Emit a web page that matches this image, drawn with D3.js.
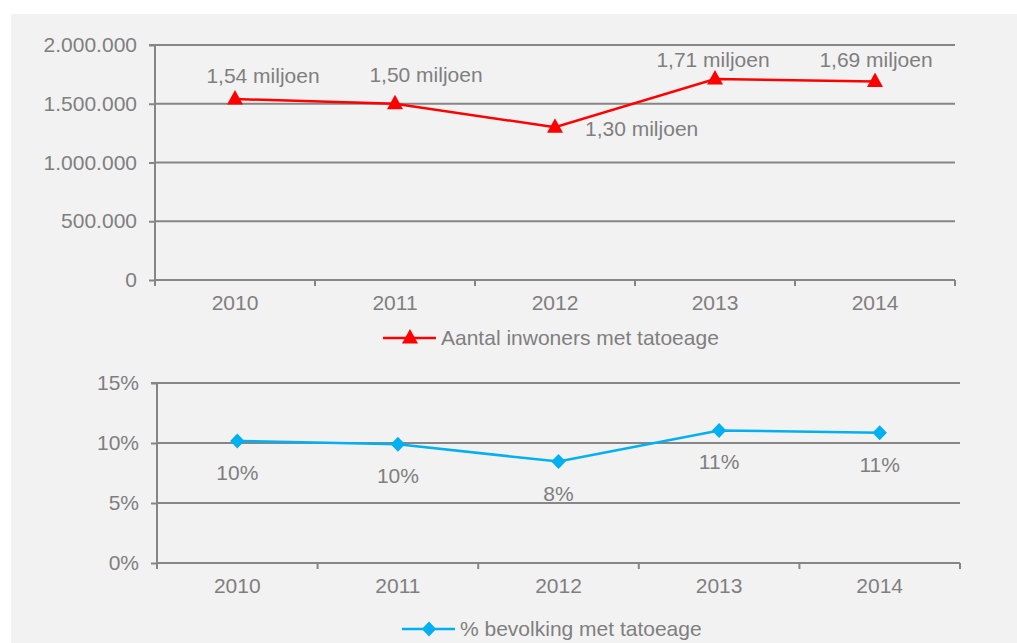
<!DOCTYPE html>
<html><head><meta charset="utf-8">
<script src="https://cdn.jsdelivr.net/npm/d3@7"></script>
<style>
html,body{margin:0;padding:0;background:#fff;}
text{font-family:"Liberation Sans",Arial,sans-serif;}
</style></head>
<body>
<svg id="c" width="1017" height="643"></svg>
<script>
const years = ["2010","2011","2012","2013","2014"];
const inwoners = [1540000, 1500000, 1300000, 1710000, 1690000];
const inwonersLabels = ["1,54 miljoen","1,50 miljoen","1,30 miljoen","1,71 miljoen","1,69 miljoen"];
const inwonersTicks = [0, 500000, 1000000, 1500000, 2000000];
const procent = [10.17, 9.89, 8.45, 11.05, 10.85];
const procentLabels = ["10%","10%","8%","11%","11%"];
const procentTicks = [0, 5, 10, 15];
const legend1 = "Aantal inwoners met tatoeage";
const legend2 = "% bevolking met tatoeage";

// layout: label offsets (pixels) relative to each marker
const topLabelOffsets = [
  {dx:28, dy:-16, anchor:"middle"},
  {dx:31, dy:-22, anchor:"middle"},
  {dx:30, dy:9, anchor:"start"},
  {dx:-2, dy:-12.5, anchor:"middle"},
  {dx:1, dy:-14.7, anchor:"middle"}
];

const svg = d3.select("#c");
const gray = "#868686", textGray = "#7f7f7f";
const red = "#ff0000", blue = "#00b0f0";
const fs = 21;

svg.append("rect").attr("x",11).attr("y",14).attr("width",1006).attr("height",629).attr("fill","#f2f2f2");

function fmtDots(v){ return d3.format(",")(v).replace(/,/g,"."); }

const triPath = "M0,-9L8,5.5L-8,5.5Z";
const diaPath = "M0,-7.5L7.2,0L0,7.5L-7.2,0Z";

function panel(opts){
  const x = d3.scaleBand().domain(years).range([opts.x0, opts.x1]).padding(0);
  const y = d3.scaleLinear().domain(opts.domain).range([opts.yb, opts.yt]);
  const g = svg.append("g");
  g.selectAll(".grid").data(opts.ticks.filter(t=>t!==0)).enter().append("line")
    .attr("x1",opts.x0).attr("x2",opts.x1).attr("y1",d=>y(d)).attr("y2",d=>y(d))
    .attr("stroke",gray).attr("stroke-width",2);
  const ya = g.append("g").attr("transform",`translate(${opts.x0},0)`)
    .call(d3.axisLeft(y).tickValues(opts.ticks).tickFormat(opts.fmt).tickSize(6).tickPadding(12));
  ya.select(".domain").attr("stroke",gray).attr("stroke-width",2).attr("d",`M-6,${opts.yt}H0V${opts.yb+6}`);
  ya.selectAll(".tick line").attr("stroke",gray).attr("stroke-width",2);
  ya.selectAll(".tick text").attr("fill",textGray).style("font-size",fs+"px").attr("font-family","Liberation Sans, Arial, sans-serif");
  const boundaries = years.map(d=>x(d)).concat([opts.x1]);
  g.append("line").attr("x1",opts.x0).attr("x2",opts.x1).attr("y1",opts.yb).attr("y2",opts.yb).attr("stroke",gray).attr("stroke-width",2);
  g.selectAll(".xt").data(boundaries).enter().append("line")
    .attr("x1",d=>d).attr("x2",d=>d).attr("y1",opts.yb).attr("y2",opts.yb+6).attr("stroke",gray).attr("stroke-width",2);
  g.selectAll(".xl").data(years).enter().append("text")
    .attr("x",d=>x(d)+x.bandwidth()/2).attr("y",opts.yb+30).attr("text-anchor","middle")
    .attr("fill",textGray).style("font-size",fs+"px").text(d=>d);
  const cx = d=>x(d)+x.bandwidth()/2;
  const line = d3.line().x((d,i)=>cx(years[i])).y(d=>y(d));
  g.append("path").datum(opts.values).attr("d",line).attr("fill","none").attr("stroke",opts.color).attr("stroke-width",2.5);
  g.selectAll(".m").data(opts.values).enter().append("path")
    .attr("d",opts.marker).attr("transform",(d,i)=>`translate(${cx(years[i])},${y(d)})`).attr("fill",opts.color);
  g.selectAll(".lb").data(opts.values).enter().append("text")
    .attr("x",(d,i)=>opts.labelPos(i).dx + cx(years[i]))
    .attr("y",(d,i)=>y(d)+opts.labelPos(i).dy)
    .attr("text-anchor",(d,i)=>opts.labelPos(i).anchor)
    .attr("fill",textGray).style("font-size",fs+"px").text((d,i)=>opts.labels[i]);
  const lx = opts.legendX, ly = opts.legendY;
  g.append("line").attr("x1",lx).attr("x2",lx+53).attr("y1",ly).attr("y2",ly).attr("stroke",opts.color).attr("stroke-width",2.5);
  g.append("path").attr("d",opts.marker).attr("transform",`translate(${lx+27},${ly})`).attr("fill",opts.color);
  g.append("text").attr("x",lx+58).attr("y",ly+7).attr("fill",textGray).style("font-size",fs+"px").text(opts.legend);
}

panel({
  x0:155, x1:955, yt:45, yb:280, domain:[0,2000000], ticks:inwonersTicks, fmt:fmtDots,
  values:inwoners, labels:inwonersLabels, color:red, marker:triPath,
  labelPos:i=> topLabelOffsets[i],
  legend:legend1, legendX:383, legendY:338
});
panel({
  x0:157, x1:960, yt:383, yb:563, domain:[0,15], ticks:procentTicks, fmt:d=>d+"%",
  values:procent, labels:procentLabels, color:blue, marker:diaPath,
  labelPos:i=> ({dx:0,dy:39,anchor:"middle"}),
  legend:legend2, legendX:402, legendY:629
});
</script>
</body></html>
